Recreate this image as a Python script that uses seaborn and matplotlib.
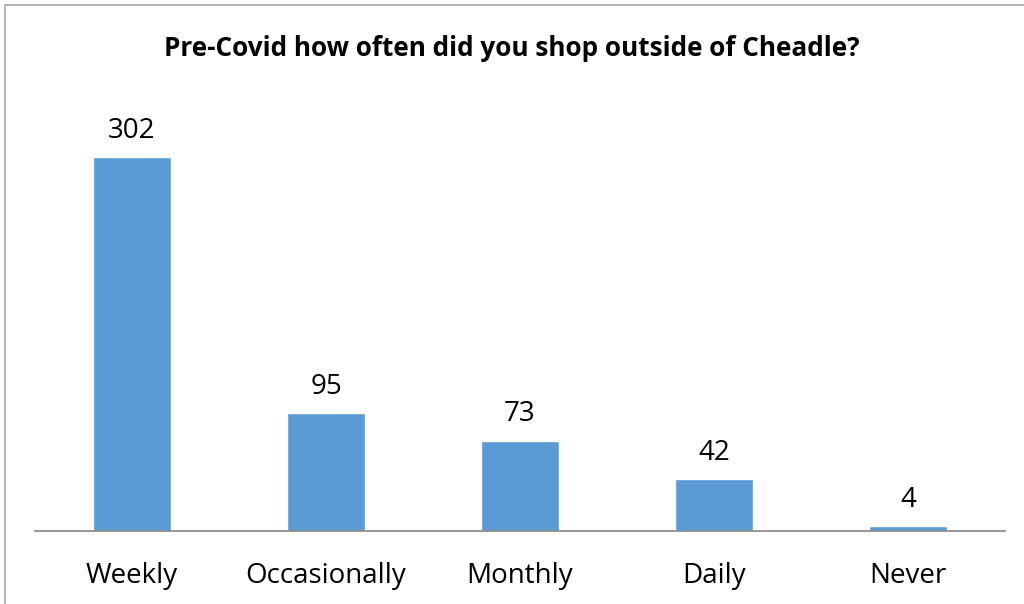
import matplotlib
matplotlib.use("Agg")
import matplotlib.pyplot as plt
import pandas as pd
import seaborn as sns
from matplotlib.patches import Rectangle

categories = ["Weekly", "Occasionally", "Monthly", "Daily", "Never"]
counts = [302, 95, 73, 42, 4]
title = "Pre-Covid how often did you shop outside of Cheadle?"

df = pd.DataFrame({"freq": categories, "n": counts})

sns.set_theme(style="white")
plt.rcParams["font.family"] = ["Open Sans", "DejaVu Sans"]

W, H = 1024, 604
fig = plt.figure(figsize=(W / 100, H / 100), dpi=100)
# axes: x 35..1005 px, y 98..531 px
ax = fig.add_axes([35 / W, 1 - 531 / H, 970 / W, 433 / H])

sns.barplot(data=df, x="freq", y="n", color="#5B9BD5", saturation=1,
            width=0.40, ax=ax)
ax.set_ylim(0, 350)
ax.set_xlim(-0.5, len(categories) - 0.5)

for i, v in enumerate(counts):
    ax.annotate(str(v), (i, v), xytext=(0, 9), textcoords="offset points",
                ha="center", va="bottom", fontsize=20, color="#000000")

ax.set_xlabel("")
ax.set_ylabel("")
ax.set_yticks([])
ax.tick_params(axis="x", length=0, pad=22, labelsize=20, labelcolor="#000000")
for s in ["top", "left", "right"]:
    ax.spines[s].set_visible(False)
ax.spines["bottom"].set_color("#868686")
ax.spines["bottom"].set_linewidth(1.2)

fig.text(0.5, 1 - 49 / H, title, ha="center", va="center",
         fontsize=18.8, fontweight="bold", color="#000000")

# outer chart border
fig.patches.append(Rectangle((5 / W, -0.05), 1.2, 1 - 5 / H + 0.05,
                             transform=fig.transFigure, fill=False,
                             edgecolor="#A6A6A6", linewidth=1.2))

fig.savefig("out.png", dpi=100)
